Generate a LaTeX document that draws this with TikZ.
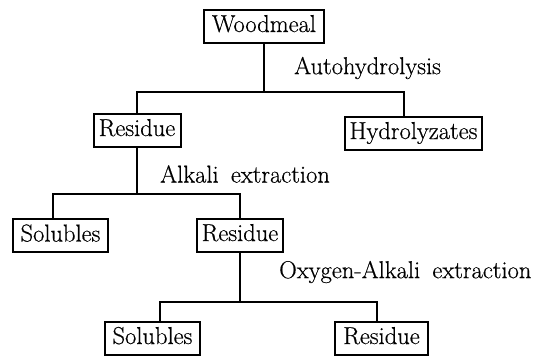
\documentclass[tikz,border=0pt]{standalone}
\usepackage{fontspec}
\newfontfamily\heavyrm{Latin Modern Roman}[FakeBold=0.45]
\begin{document}
\begin{tikzpicture}[x=1pt,y=1pt,
  box/.style={draw, line width=2pt, inner sep=0pt, minimum height=33pt,
    text height=17pt, text depth=5pt, font=\heavyrm\fontsize{24.5}{28}\selectfont},
  lab/.style={inner sep=0pt, anchor=west, font=\heavyrm\fontsize{24.5}{28}\selectfont},
  conn/.style={line width=1.8pt, line join=miter}]
\useasboundingbox (0,0) rectangle (538,-357);
\node[box, minimum width=120pt] (wood) at (264,-26) {Woodmeal};
\node[box, minimum width=87pt] (res1) at (137,-130) {Residue};
\node[box, minimum width=137pt] (hyd) at (413.5,-133) {Hydrolyzates};
\node[box, minimum width=95pt] (sol1) at (60.5,-235.5) {Solubles};
\node[box, minimum width=86pt] (res2) at (240,-235) {Residue};
\node[box, minimum width=95pt] (sol2) at (152.5,-338) {Solubles};
\node[box, minimum width=93pt] (res3) at (381.5,-338) {Residue};
\node[lab] (l1) at (294,-68) {Autohydrolysis};
\node[lab] (l2) at (160,-174) {Alkali\hspace{0.5em}extraction};
\node[lab] (l3) at (279,-272) {Oxygen-Alkali\hspace{0.5em}extraction};
\coordinate (j1) at (404,-92);
\coordinate (j2) at (53,-194);
\coordinate (j3) at (160,-302);
\coordinate (j3r) at (377,-302);
\draw[conn] (wood.south) -- (wood.south |- j1);
\draw[conn] (res1.north) |- (j1) -- (j1 |- hyd.north);
\draw[conn] (res1.south) -- (res1.south |- j2);
\draw[conn] (j2 |- sol1.north) -- (j2) -| (res2.north);
\draw[conn] (res2.south) -- (res2.south |- j3);
\draw[conn] (j3 |- sol2.north) -- (j3) -- (j3r) -- (j3r |- res3.north);
\end{tikzpicture}
\end{document}
